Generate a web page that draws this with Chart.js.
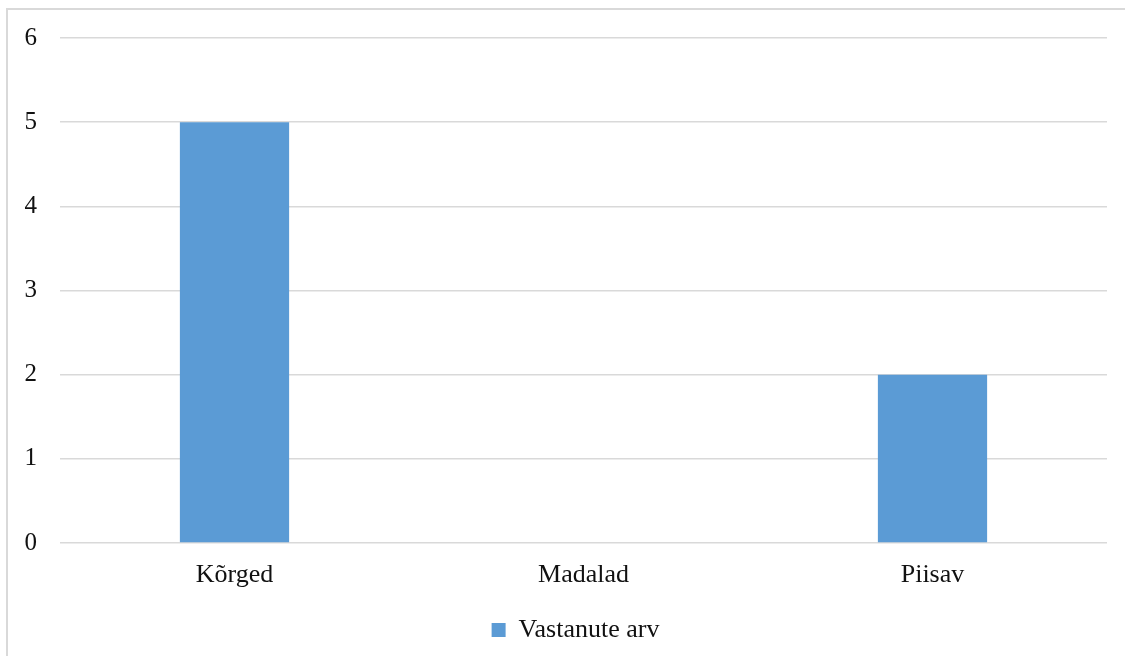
<!DOCTYPE html>
<html lang="et">
<head>
    <meta charset="UTF-8">
    <title>Vastanute arv</title>
    <script src="https://cdn.jsdelivr.net/npm/chart.js"></script>
    <style>
        html, body {
            margin: 0;
            padding: 0;
            background: #fff;
            overflow: hidden;
        }
        #frame {
            position: absolute;
            left: 6px;
            top: 8px;
            width: 1200px;
            height: 700px;
            border-left: 2px solid #d9d9d9;
            border-top: 2px solid #d9d9d9;
        }
        #wrap {
            position: absolute;
            left: 0;
            top: 0;
            width: 1125px;
            height: 656px;
        }
    </style>
</head>
<body>
    <div id="frame"></div>
    <div id="wrap"><canvas id="chart"></canvas></div>

    <script>
        const categories = ['Kõrged', 'Madalad', 'Piisav'];
        const respondents = [5, 0, 2];
        const seriesName = 'Vastanute arv';
        const yTicks = [0, 1, 2, 3, 4, 5, 6];

        const family = '"Liberation Serif", "Times New Roman", serif';

        // legend sits a little right of the canvas centre in the original
        const legendShift = {
            id: 'legendShift',
            afterLayout(chart) {
                chart.legend.left += 22;
                chart.legend.right += 22;
            }
        };

        const ctx = document.getElementById('chart').getContext('2d');
        const chart = new Chart(ctx, {
            type: 'bar',
            data: {
                labels: categories,
                datasets: [{
                    label: seriesName,
                    data: respondents,
                    backgroundColor: '#5b9bd5',
                    borderWidth: 0,
                    barPercentage: 0.313,
                    categoryPercentage: 1
                }]
            },
            options: {
                responsive: true,
                maintainAspectRatio: false,
                animation: false,
                layout: {
                    padding: { top: 37, right: 18, left: 0, bottom: 3 }
                },
                plugins: {
                    legend: {
                        position: 'bottom',
                        labels: {
                            font: { family: family, size: 26 },
                            color: '#111',
                            boxWidth: 14,
                            boxHeight: 14,
                            padding: 4
                        }
                    },
                    tooltip: { enabled: false }
                },
                scales: {
                    x: {
                        grid: { display: false, drawTicks: false },
                        border: { display: false },
                        ticks: { font: { family: family, size: 26 }, color: '#111', padding: 17 },
                        afterFit: scale => { scale.height = 70; }
                    },
                    y: {
                        min: 0,
                        max: 6,
                        afterBuildTicks: scale => {
                            scale.ticks = yTicks.map(v => ({ value: v }));
                        },
                        grid: { color: '#d9d9d9', lineWidth: 1.5, drawTicks: false },
                        border: { display: false },
                        ticks: { font: { family: family, size: 25 }, color: '#111', padding: 23 },
                        afterFit: scale => { scale.width = 60; }
                    }
                }
            },
            plugins: [legendShift]
        });
    </script>
</body>
</html>
